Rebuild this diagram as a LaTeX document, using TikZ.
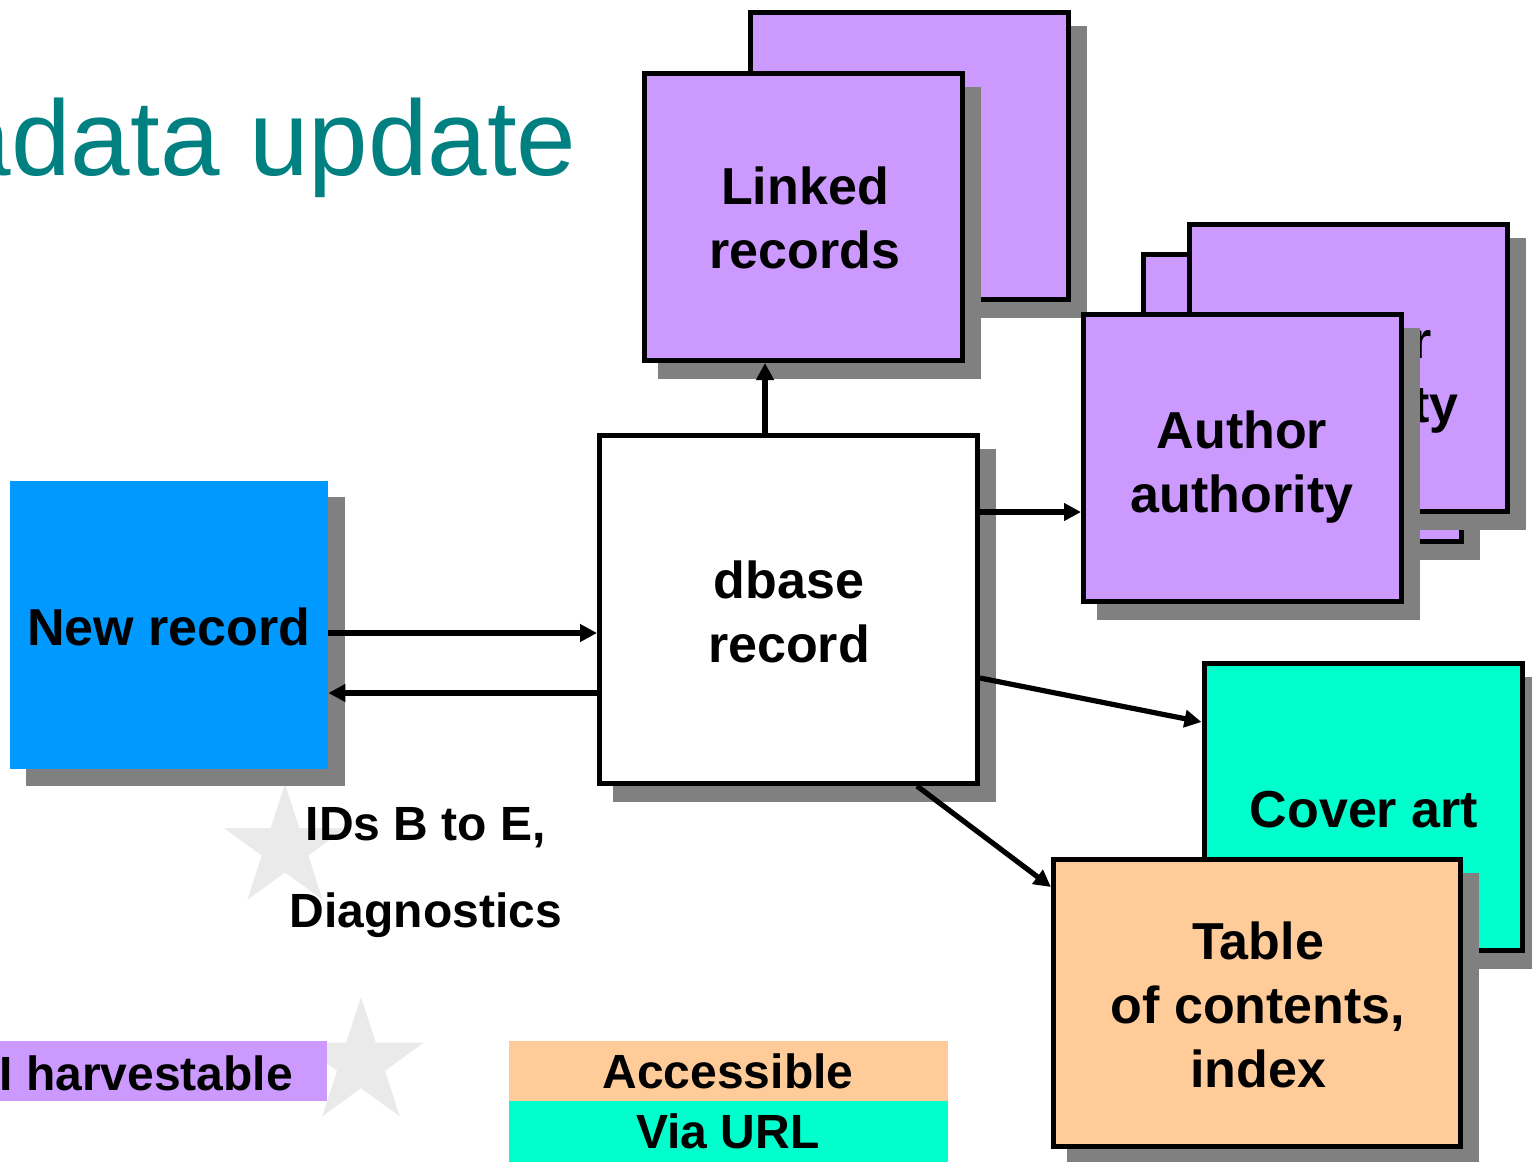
\documentclass[tikz,border=0pt]{standalone}
\usepackage{fontspec}
\setmainfont{Liberation Sans}
\usetikzlibrary{arrows.meta,shadows}
\definecolor{purp}{HTML}{CC99FF}
\definecolor{blu}{HTML}{0099FF}
\definecolor{cyn}{HTML}{00FFCC}
\definecolor{pch}{HTML}{FFCC99}
\definecolor{shd}{HTML}{808080}
\definecolor{strc}{HTML}{EAEAEA}
\definecolor{teal2}{HTML}{008080}
\tikzset{
  shbox/.style={rectangle, inner sep=0pt, line width=2.5pt, draw=black,
    drop shadow={shadow xshift=8pt, shadow yshift=-8pt, fill=shd, draw=shd, opacity=1}},
  pbox/.style={shbox, fill=purp, minimum width=159pt, minimum height=143.5pt},
  lbl/.style={font=\fontsize{26pt}{32pt}\selectfont\bfseries, align=center, inner sep=0pt, anchor=base},
  leg/.style={font=\fontsize{24pt}{29pt}\selectfont\bfseries, inner sep=0pt, anchor=base},
  legbox/.style={inner sep=0pt, anchor=north west, minimum height=30pt},
  arr/.style={line width=2.6pt, -{Triangle[length=8.5pt,width=8.5pt]}},
  starfill/.style={fill=strc},
}
\begin{document}
\begin{tikzpicture}[x=0.5pt,y=-0.5pt]
\useasboundingbox (0,0) rectangle (1532,1162);
\clip (0,0) rectangle (1532,1162);
% background stars
\fill[starfill, shift={(285,848)}] (-90:64) -- (-54:24.5) -- (-18:64) -- (18:24.5) -- (54:64) -- (90:24.5) -- (126:64) -- (162:24.5) -- (198:64) -- (234:24.5) -- cycle;
\fill[starfill, shift={(361,1063)}] (-90:66) -- (-54:25.2) -- (-18:66) -- (18:25.2) -- (54:66) -- (90:25.2) -- (126:66) -- (162:25.2) -- (198:66) -- (234:25.2) -- cycle;
% title
\node[anchor=base west, inner sep=0pt, text=teal2, font=\fontsize{53.5pt}{60pt}\selectfont] (title) at (-48.5,175) {adata update};
% linked records
\node[pbox] (linkB) at (909.5,156) {};
\node[pbox] (linkF) at (803.5,217) {};
\node[lbl] (linkT) at (805,268) {Linked\\records};
% author authority stack
\node[pbox] (autA) at (1302.5,398) {};
\node[pbox] (autB) at (1348,368) {};
\node[lbl] (autBT) at (1347,422) {Author\\authority};
\node[pbox] (autF) at (1242.5,458) {};
\node[lbl] (autFT) at (1242,512) {Author\\authority};
% new record
\node[shbox, draw=none, line width=0.4pt, fill=blu, minimum width=159pt, minimum height=144pt] (newr) at (169,625) {};
\node[lbl] (newrT) at (169,645) {New record};
% dbase record
\node[shbox, fill=white, minimum width=189pt, minimum height=174pt] (dbase) at (788.5,609.5) {};
\node[lbl] (dbaseT) at (789,662) {dbase\\record};
% cover art
\node[shbox, fill=cyn, minimum width=159pt, minimum height=143.5pt] (cover) at (1363,807) {};
\node[lbl] (coverT) at (1364,827) {Cover art};
% table of contents
\node[shbox, fill=pch, minimum width=203.5pt, minimum height=143.5pt] (toc) at (1257,1003) {};
\node[lbl] (tocT) at (1258,1087) {Table\\of contents,\\index};
% free labels
\node[leg] (ids) at (426,840) {IDs B to E,};
\node[leg] (diag) at (426,927) {Diagnostics};
% legend
\node[legbox, fill=purp, minimum width=163.5pt] (legP) at (0,1041) {};
\node[leg, anchor=base west] (legPT) at (-1,1090) {I harvestable};
\node[legbox, fill=pch, minimum width=219.5pt] (legA) at (509,1041) {};
\node[leg] (legAT) at (728,1088) {Accessible};
\node[legbox, fill=cyn, minimum width=219.5pt, minimum height=30.5pt] (legU) at (509,1101) {};
\node[leg] (legUT) at (728,1148) {Via URL};
% connectors
\coordinate (xa) at (765,0);
\coordinate (ya) at (0,633);
\coordinate (yb) at (0,693);
\coordinate (yc) at (0,512);
\coordinate (yd) at (0,678);
\coordinate (ye) at (0,722);
\coordinate (xf) at (917,0);
\coordinate (yf) at (0,887);
\draw[arr] (dbase.north -| xa) -- (linkF.south -| xa);
\draw[arr] (newr.east |- ya) -- (dbase.west |- ya);
\draw[arr] (dbase.west |- yb) -- (newr.east |- yb);
\draw[arr] (dbase.east |- yc) -- (autF.west |- yc);
\draw[arr] (dbase.east |- yd) -- (cover.west |- ye);
\draw[arr] (dbase.south -| xf) -- (toc.west |- yf);
\end{tikzpicture}
\end{document}
